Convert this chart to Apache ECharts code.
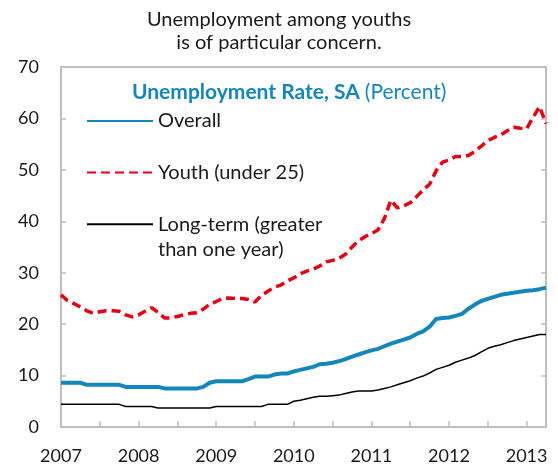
<!DOCTYPE html>
<html>
<head>
<meta charset="utf-8">
<script src="https://cdn.jsdelivr.net/npm/echarts@6/dist/echarts.min.js"></script>
<style>
html, body { margin: 0; padding: 0; background: #fff; }
#main { width: 558px; height: 467px; }
</style>
</head>
<body>
<div id="main"></div>
<script>
// monthly data, Jan 2007 .. Apr 2013
var years = ['2007', '2008', '2009', '2010', '2011', '2012', '2013'];
var monthsLastYear = 4;
var months = [];
years.forEach(function (y, i) {
  var n = (i === years.length - 1) ? monthsLastYear : 12;
  for (var m = 1; m <= n; m++) months.push(y + '-' + (m < 10 ? '0' + m : m));
});

var overall = [
  8.6, 8.6, 8.6, 8.6, 8.2, 8.2, 8.2, 8.2, 8.2, 8.2,
  7.8, 7.8, 7.8, 7.8, 7.8, 7.8, 7.5, 7.5, 7.5, 7.5,
  7.5, 7.5, 7.8, 8.6, 8.9, 8.9, 8.9, 8.9, 8.9, 9.3,
  9.8, 9.8, 9.8, 10.2, 10.4, 10.4, 10.8, 11.1, 11.4, 11.7,
  12.2, 12.3, 12.5, 12.8, 13.2, 13.7, 14.1, 14.5, 14.9, 15.2,
  15.7, 16.2, 16.6, 17.0, 17.4, 18.1, 18.6, 19.5, 21.0, 21.2,
  21.3, 21.6, 22.0, 23.0, 23.8, 24.5, 24.9, 25.3, 25.7, 25.9,
  26.1, 26.3, 26.5, 26.6, 26.8, 27.1
];

var youth = [
  25.7, 24.6, 24.0, 23.3, 22.6, 22.1, 22.4, 22.6, 22.6, 22.5,
  21.8, 21.4, 21.8, 22.5, 23.2, 22.3, 21.2, 21.2, 21.5, 21.8,
  22.1, 22.2, 22.9, 23.9, 24.4, 25.0, 25.1, 25.0, 25.0, 24.8,
  24.3, 25.6, 26.4, 27.2, 27.6, 28.4, 29.0, 29.8, 30.3, 30.7,
  31.3, 32.1, 32.4, 32.8, 33.6, 35.0, 36.2, 37.0, 37.6, 38.3,
  40.5, 44.1, 42.6, 43.0, 43.6, 44.8, 46.1, 47.2, 49.8, 51.5,
  51.9, 52.6, 52.6, 52.8, 53.6, 54.6, 55.7, 56.3, 56.8, 57.6,
  58.3, 58.1, 58.0, 60.2, 62.3, 59.0
];

var longTerm = [
  4.4, 4.4, 4.4, 4.4, 4.4, 4.4, 4.4, 4.4, 4.4, 4.4,
  4.0, 4.0, 4.0, 4.0, 4.0, 3.7, 3.7, 3.7, 3.7, 3.7,
  3.7, 3.7, 3.7, 3.7, 4.0, 4.0, 4.0, 4.0, 4.0, 4.0,
  4.0, 4.0, 4.4, 4.4, 4.4, 4.4, 5.0, 5.2, 5.5, 5.8,
  6.0, 6.0, 6.1, 6.2, 6.5, 6.8, 7.0, 7.0, 7.0, 7.2,
  7.5, 7.8, 8.2, 8.6, 9.0, 9.5, 9.9, 10.5, 11.2, 11.6,
  12.0, 12.6, 13.0, 13.4, 13.9, 14.6, 15.3, 15.7, 16.0, 16.4,
  16.8, 17.1, 17.4, 17.7, 18.0, 18.0
];

var yTicks = [0, 10, 20, 30, 40, 50, 60, 70];

var ff = 'Lato';
var blue = '#1387bd';
var red = '#e8000f';
var grey = '#bfbfbf';
var longName = 'Long-term (greater than one year)';

var myChart = echarts.init(document.getElementById('main'));

var legendBase = {
  orient: 'vertical',
  left: 81,
  itemWidth: 66,
  itemHeight: 14,
  itemGap: 25.5,
  itemStyle: { opacity: 0 },
  textStyle: { fontFamily: ff, fontSize: 20, color: '#1a1a1a', lineHeight: 26 }
};

var option = {
  animation: false,
  title: [{
    text: 'Unemployment among youths\nis of particular concern.',
    left: 'center',
    top: 8,
    padding: 0,
    textStyle: { fontFamily: ff, fontSize: 20, fontWeight: 'normal', color: '#1a1a1a', lineHeight: 23 }
  }, {
    text: '{b|Unemployment Rate, SA} {n|(Percent)}',
    left: 132,
    top: 79,
    padding: 0,
    textStyle: {
      rich: {
        b: { fontFamily: ff, fontSize: 21, fontWeight: 'bold', color: blue, lineHeight: 26 },
        n: { fontFamily: ff, fontSize: 21, fontWeight: 'normal', color: blue, lineHeight: 26 }
      }
    }
  }],
  legend: [
    Object.assign({}, legendBase, {
      top: 103,
      data: ['Overall', 'Youth (under 25)']
    }),
    Object.assign({}, legendBase, {
      top: 181,
      textStyle: { fontFamily: ff, fontSize: 20, color: '#1a1a1a', lineHeight: 25.5 },
      data: [longName],
      // blank first line keeps "Long-term" level with the icon
      formatter: function () { return '\nLong-term (greater\nthan one year)'; }
    })
  ],
  grid: {
    left: 61, right: 12, top: 67, bottom: 40,
    show: true, borderColor: grey, borderWidth: 2
  },
  xAxis: {
    type: 'category',
    data: months,
    boundaryGap: false,
    axisLine: { lineStyle: { color: grey, width: 2 } },
    axisTick: {
      inside: true, length: 6,
      interval: function (i) { return i > 0 && i % 6 === 0; },
      lineStyle: { color: grey, width: 1.5 }
    },
    axisLabel: {
      interval: function (i) { return i % 12 === 0; },
      formatter: function (v) { return v.slice(0, 4); },
      fontFamily: ff, fontSize: 18, color: '#1a1a1a', margin: 20
    },
    splitLine: { show: false }
  },
  yAxis: [{
    type: 'value', min: yTicks[0], max: yTicks[yTicks.length - 1], interval: 10,
    axisLine: { show: true, lineStyle: { color: grey, width: 2 } },
    axisTick: { show: true, inside: true, length: 5, lineStyle: { color: grey, width: 1.5 } },
    axisLabel: { fontFamily: ff, fontSize: 18, color: '#1a1a1a', margin: 22, padding: [6, 0, 0, 0] },
    splitLine: { show: false }
  }, {
    type: 'value', position: 'right', min: yTicks[0], max: yTicks[yTicks.length - 1], interval: 10,
    axisLine: { show: true, lineStyle: { color: grey, width: 2 } },
    axisTick: { show: true, inside: true, length: 5, lineStyle: { color: grey, width: 1.5 } },
    axisLabel: { show: false },
    splitLine: { show: false }
  }],
  series: [{
    name: 'Overall',
    type: 'line',
    data: overall,
    symbol: 'none',
    lineStyle: { color: blue, width: 4 },
    itemStyle: { color: blue }
  }, {
    name: 'Youth (under 25)',
    type: 'line',
    data: youth,
    symbol: 'none',
    lineStyle: { color: red, width: 3.5, type: [9, 5] },
    itemStyle: { color: red }
  }, {
    name: longName,
    type: 'line',
    data: longTerm,
    symbol: 'none',
    lineStyle: { color: '#000', width: 1.5 },
    itemStyle: { color: '#000' }
  }]
};

myChart.setOption(option);
</script>
</body>
</html>
